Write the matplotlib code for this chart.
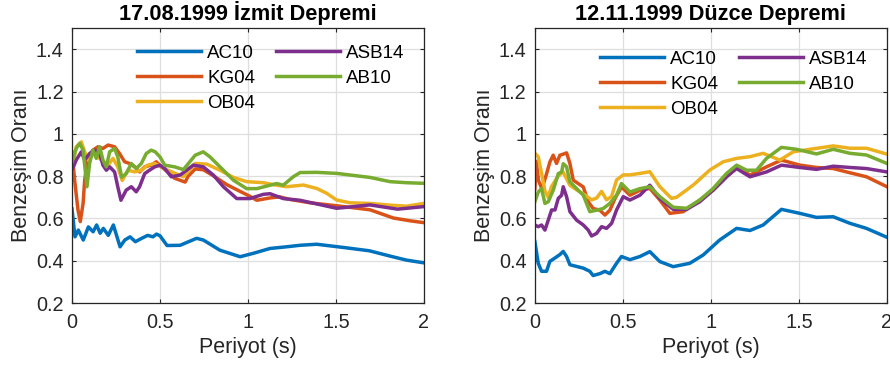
import matplotlib
matplotlib.use("Agg")
from matplotlib import pyplot as plt

plt.rcParams['font.family'] = ['Liberation Sans', 'DejaVu Sans']

# station names and MATLAB default colours
stations = ['AC10', 'KG04', 'OB04', 'ASB14', 'AB10']
colors = ['#0072BD', '#D95319', '#EDB120', '#7E2F8E', '#77AC30']

# ---- 17.08.1999 Izmit (period, ratio)
iz_ac10_t = [0, 0.017, 0.036, 0.064, 0.093, 0.12, 0.14, 0.16, 0.178, 0.206, 0.235, 0.273, 0.30, 0.33, 0.36,
             0.396, 0.43, 0.46, 0.48, 0.5, 0.54, 0.614, 0.708, 0.746, 0.84, 0.955, 1.03, 1.125, 1.22, 1.295,
             1.39, 1.54, 1.69, 1.807, 1.90, 2.0]
iz_ac10_v = [0.645, 0.513, 0.545, 0.498, 0.56, 0.537, 0.569, 0.53, 0.553, 0.52, 0.569, 0.466, 0.498, 0.513, 0.49,
             0.506, 0.52, 0.513, 0.526, 0.518, 0.472, 0.473, 0.506, 0.498, 0.45, 0.419, 0.435, 0.458, 0.466, 0.473,
             0.478, 0.463, 0.447, 0.422, 0.403, 0.39]

iz_kg04_t = [0, 0.015, 0.034, 0.047, 0.063, 0.072, 0.091, 0.119, 0.148, 0.176, 0.205, 0.242, 0.27, 0.299, 0.327,
             0.356, 0.384, 0.413, 0.45, 0.479, 0.507, 0.545, 0.583, 0.643, 0.66, 0.70, 0.746, 0.803, 0.879, 0.955,
             1.01, 1.05, 1.125, 1.18, 1.238, 1.352, 1.504, 1.693, 1.826, 1.92, 2.0]
iz_kg04_v = [0.915, 0.781, 0.64, 0.585, 0.671, 0.781, 0.891, 0.923, 0.939, 0.931, 0.947, 0.939, 0.907, 0.868, 0.86,
             0.844, 0.82, 0.844, 0.852, 0.868, 0.844, 0.82, 0.79, 0.772, 0.8, 0.834, 0.83, 0.802, 0.76, 0.728,
             0.705, 0.686, 0.697, 0.702, 0.69, 0.674, 0.66, 0.641, 0.602, 0.589, 0.58]

iz_ob04_t = [0, 0.024, 0.053, 0.072, 0.091, 0.119, 0.148, 0.176, 0.205, 0.233, 0.26, 0.285, 0.318, 0.356, 0.394,
             0.43, 0.47, 0.507, 0.545, 0.633, 0.70, 0.765, 0.841, 0.917, 0.992, 1.087, 1.163, 1.22, 1.315, 1.39,
             1.447, 1.504, 1.58, 1.693, 1.807, 1.90, 2.0]
iz_ob04_v = [0.828, 0.939, 0.962, 0.915, 0.876, 0.907, 0.891, 0.868, 0.852, 0.884, 0.844, 0.78, 0.828, 0.82, 0.828,
             0.852, 0.86, 0.844, 0.828, 0.797, 0.86, 0.857, 0.828, 0.794, 0.774, 0.769, 0.757, 0.75, 0.758, 0.742,
             0.719, 0.687, 0.674, 0.671, 0.663, 0.658, 0.671]

iz_asb14_t = [0, 0.024, 0.053, 0.072, 0.1, 0.129, 0.157, 0.176, 0.195, 0.214, 0.242, 0.26, 0.278, 0.308, 0.337,
              0.365, 0.384, 0.413, 0.44, 0.47, 0.5, 0.527, 0.564, 0.614, 0.689, 0.746, 0.803, 0.86, 0.936, 1.01,
              1.087, 1.125, 1.2, 1.295, 1.504, 1.693, 1.85, 2.0]
iz_asb14_v = [0.828, 0.876, 0.915, 0.876, 0.907, 0.923, 0.907, 0.852, 0.828, 0.844, 0.82, 0.75, 0.686, 0.734, 0.75,
              0.726, 0.75, 0.812, 0.828, 0.844, 0.852, 0.836, 0.797, 0.805, 0.852, 0.844, 0.805, 0.75, 0.694, 0.694,
              0.714, 0.717, 0.694, 0.686, 0.648, 0.664, 0.644, 0.656]

iz_ab10_t = [0, 0.024, 0.044, 0.063, 0.085, 0.1, 0.119, 0.138, 0.157, 0.176, 0.195, 0.214, 0.242, 0.26, 0.282,
             0.308, 0.337, 0.365, 0.394, 0.422, 0.45, 0.473, 0.5, 0.527, 0.583, 0.633, 0.70, 0.746, 0.784, 0.841,
             0.917, 0.992, 1.05, 1.125, 1.163, 1.2, 1.257, 1.296, 1.39, 1.504, 1.693, 1.807, 1.90, 2.0]
iz_ab10_v = [0.868, 0.931, 0.955, 0.923, 0.75, 0.86, 0.923, 0.884, 0.939, 0.876, 0.844, 0.915, 0.931, 0.891, 0.795,
             0.812, 0.86, 0.836, 0.86, 0.907, 0.923, 0.915, 0.891, 0.852, 0.844, 0.831, 0.899, 0.915, 0.891, 0.844,
             0.781, 0.741, 0.741, 0.757, 0.765, 0.757, 0.797, 0.817, 0.818, 0.813, 0.794, 0.774, 0.769, 0.766]

# ---- 12.11.1999 Duzce
dz_ac10_t = [0, 0.019, 0.038, 0.066, 0.085, 0.114, 0.142, 0.161, 0.18, 0.199, 0.237, 0.275, 0.312, 0.331, 0.369,
             0.398, 0.426, 0.464, 0.492, 0.54, 0.597, 0.653, 0.71, 0.786, 0.88, 0.956, 1.05, 1.146, 1.222, 1.297,
             1.401, 1.506, 1.6, 1.695, 1.79, 1.884, 2.0]
dz_ac10_v = [0.49, 0.388, 0.35, 0.35, 0.397, 0.413, 0.429, 0.444, 0.42, 0.381, 0.373, 0.365, 0.35, 0.33, 0.339,
             0.35, 0.339, 0.388, 0.42, 0.405, 0.42, 0.443, 0.396, 0.372, 0.388, 0.427, 0.498, 0.553, 0.543, 0.569,
             0.643, 0.624, 0.605, 0.608, 0.577, 0.553, 0.511]

dz_kg04_t = [0, 0.008, 0.02, 0.04, 0.066, 0.085, 0.104, 0.123, 0.142, 0.161, 0.18, 0.199, 0.218, 0.246, 0.275,
             0.303, 0.331, 0.369, 0.398, 0.426, 0.455, 0.492, 0.54, 0.597, 0.653, 0.71, 0.767, 0.843, 0.937, 1.013,
             1.089, 1.146, 1.222, 1.316, 1.401, 1.506, 1.6, 1.695, 1.79, 1.884, 2.0]
dz_kg04_v = [0.74, 0.87, 0.78, 0.74, 0.81, 0.867, 0.899, 0.86, 0.899, 0.904, 0.91, 0.86, 0.781, 0.765, 0.749,
             0.679, 0.647, 0.639, 0.616, 0.639, 0.694, 0.749, 0.71, 0.733, 0.742, 0.687, 0.624, 0.632, 0.687, 0.734,
             0.797, 0.844, 0.805, 0.844, 0.876, 0.852, 0.841, 0.836, 0.816, 0.797, 0.75]

dz_ob04_t = [0, 0.019, 0.038, 0.057, 0.075, 0.094, 0.132, 0.16, 0.199, 0.237, 0.284, 0.322, 0.35, 0.379, 0.407,
             0.436, 0.464, 0.502, 0.54, 0.597, 0.653, 0.71, 0.776, 0.805, 0.9, 0.994, 1.07, 1.146, 1.222, 1.297,
             1.392, 1.468, 1.563, 1.695, 1.79, 1.884, 2.0]
dz_ob04_v = [0.908, 0.892, 0.813, 0.73, 0.70, 0.75, 0.80, 0.82, 0.757, 0.735, 0.711, 0.688, 0.696, 0.728, 0.688,
             0.704, 0.782, 0.806, 0.806, 0.813, 0.821, 0.75, 0.695, 0.7, 0.758, 0.829, 0.868, 0.884, 0.892, 0.908,
             0.876, 0.915, 0.927, 0.943, 0.932, 0.932, 0.904]

dz_asb14_t = [0, 0.019, 0.038, 0.057, 0.076, 0.095, 0.114, 0.133, 0.152, 0.161, 0.18, 0.199, 0.237, 0.275, 0.303,
              0.322, 0.35, 0.379, 0.407, 0.436, 0.464, 0.502, 0.54, 0.597, 0.653, 0.71, 0.786, 0.862, 0.937, 1.013,
              1.089, 1.146, 1.222, 1.316, 1.401, 1.506, 1.6, 1.695, 1.79, 1.884, 2.0]
dz_asb14_v = [0.569, 0.561, 0.569, 0.545, 0.592, 0.64, 0.64, 0.695, 0.71, 0.75, 0.703, 0.632, 0.592, 0.569, 0.545,
              0.517, 0.529, 0.561, 0.553, 0.577, 0.64, 0.703, 0.687, 0.71, 0.757, 0.694, 0.643, 0.643, 0.679, 0.734,
              0.797, 0.836, 0.797, 0.82, 0.852, 0.841, 0.832, 0.847, 0.841, 0.836, 0.82]

dz_ab10_t = [0, 0.019, 0.038, 0.057, 0.076, 0.104, 0.133, 0.152, 0.161, 0.18, 0.199, 0.237, 0.275, 0.312, 0.35,
             0.388, 0.426, 0.464, 0.492, 0.54, 0.597, 0.653, 0.71, 0.786, 0.862, 0.937, 1.013, 1.089, 1.146, 1.203,
             1.259, 1.316, 1.401, 1.487, 1.6, 1.695, 1.79, 1.884, 2.0]
dz_ab10_v = [0.679, 0.725, 0.741, 0.671, 0.679, 0.733, 0.812, 0.82, 0.859, 0.844, 0.773, 0.741, 0.71, 0.632, 0.639,
             0.647, 0.671, 0.71, 0.765, 0.725, 0.741, 0.75, 0.703, 0.653, 0.648, 0.687, 0.742, 0.813, 0.852, 0.828,
             0.828, 0.884, 0.936, 0.927, 0.905, 0.927, 0.908, 0.9, 0.86]

izmit = [(iz_ac10_t, iz_ac10_v), (iz_kg04_t, iz_kg04_v), (iz_ob04_t, iz_ob04_v),
         (iz_asb14_t, iz_asb14_v), (iz_ab10_t, iz_ab10_v)]
duzce = [(dz_ac10_t, dz_ac10_v), (dz_kg04_t, dz_kg04_v), (dz_ob04_t, dz_ob04_v),
         (dz_asb14_t, dz_asb14_v), (dz_ab10_t, dz_ab10_v)]

xticks = [0, 0.5, 1, 1.5, 2]
yticks = [0.2, 0.4, 0.6, 0.8, 1.0, 1.2, 1.4]
ytick_labels = ['0.2', '0.4', '0.6', '0.8', '1', '1.2', '1.4']
xtick_labels = ['0', '0.5', '1', '1.5', '2']

fig = plt.figure(figsize=(8.9, 3.7), dpi=100)
ax1 = fig.add_axes([0.0809, 0.181, 0.3955, 0.743])
ax2 = fig.add_axes([0.601, 0.181, 0.3955, 0.743])

dark = '#262626'


def draw(ax, series, title, leg_y):
    for (t, v), name, c in zip(series, stations, colors):
        ax.plot(t, v, color=c, lw=2.5, label=name, solid_joinstyle='round')
    ax.set_xlim(0, 2)
    ax.set_ylim(0.2, 1.5)
    ax.set_xticks(xticks)
    ax.set_xticklabels(xtick_labels)
    ax.set_yticks(yticks)
    ax.set_yticklabels(ytick_labels)
    ax.grid(True, color='#dedede', lw=0.9)
    ax.set_axisbelow(True)
    for s in ax.spines.values():
        s.set_color(dark)
        s.set_linewidth(0.9)
    ax.tick_params(direction='in', length=3, width=0.8, colors=dark, labelsize=14.3,
                   top=True, right=True)
    ax.tick_params(axis='x', pad=7)
    ax.tick_params(axis='y', pad=6)
    ax.set_title(title, fontsize=15.7, fontweight='bold', pad=6)
    ax.set_xlabel('Periyot (s)', fontsize=15.5, color=dark, labelpad=4)
    ax.set_ylabel('Benzeşim Oranı', fontsize=15.5, color=dark, labelpad=3)
    ax.legend(loc='upper left', bbox_to_anchor=(0.185, leg_y), ncol=2, frameon=False,
              fontsize=13.5, handlelength=3.4, handletextpad=0.35, columnspacing=1.1,
              labelspacing=0.42, borderpad=0, borderaxespad=0)


draw(ax1, izmit, '17.08.1999 İzmit Depremi', 0.940)
draw(ax2, duzce, '12.11.1999 Düzce Depremi', 0.918)

fig.savefig('out.png', dpi=100)
